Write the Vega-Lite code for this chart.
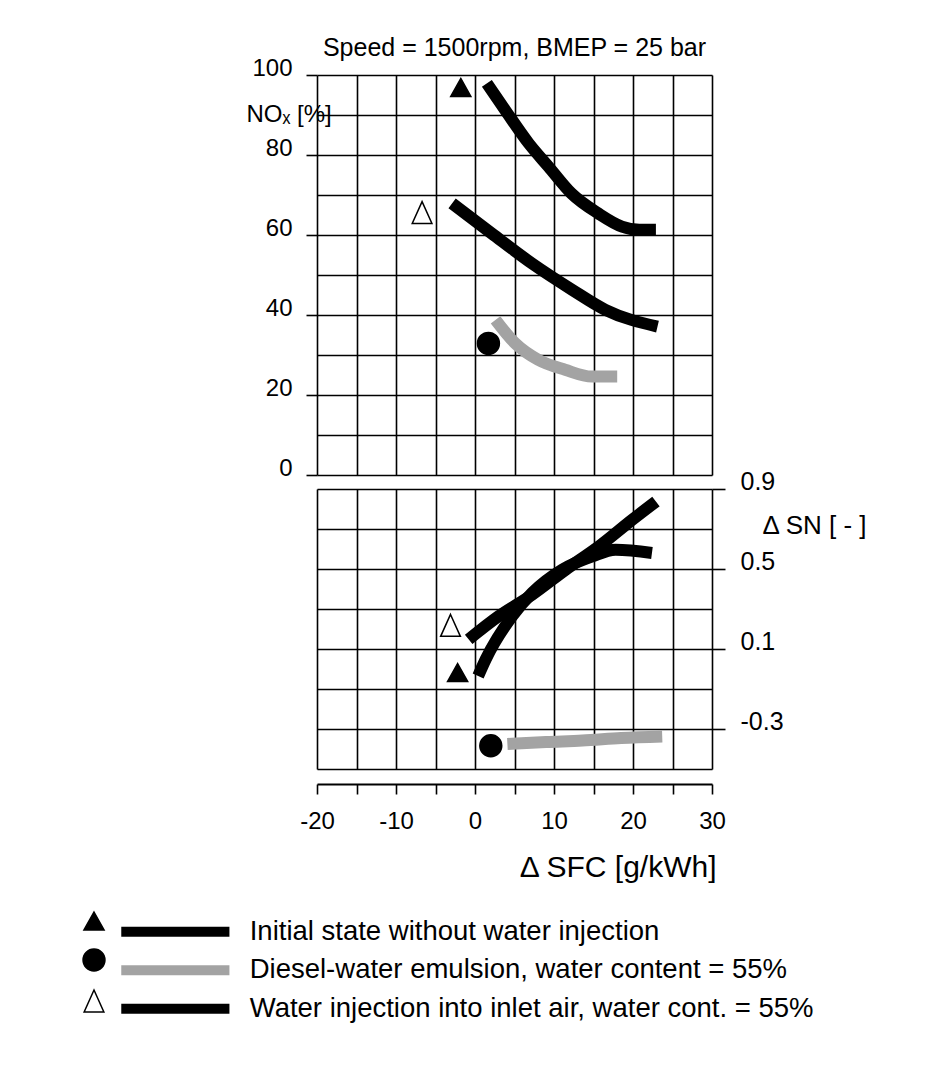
{
  "$schema": "https://vega.github.io/schema/vega-lite/v6.json",
  "padding": {"left": 82, "top": 36, "right": 10, "bottom": 10},
  "bounds": "flush",
  "spacing": 14,
  "resolve": {"scale": {"x": "independent", "y": "independent"}, "axis": {"x": "independent", "y": "independent"}},
  "config": {
    "font": "Liberation Sans",
    "locale": {"number": {"decimal": ".", "thousands": ",", "grouping": [3], "currency": ["$", ""], "minus": "-"}},
    "view": {"stroke": null},
    "axis": {
      "gridColor": "#000", "gridOpacity": 1, "gridWidth": 1.6,
      "tickColor": "#000", "tickWidth": 1.6,
      "domainColor": "#000", "domainWidth": 1.8,
      "labelColor": "#000", "titleColor": "#000",
      "labelFont": "Liberation Sans", "titleFont": "Liberation Sans",
      "titleFontWeight": "normal", "labelFlush": false, "labelOverlap": false, "labelBound": false
    },
    "legend": {"labelFont": "Liberation Sans", "labelColor": "#000", "padding": 0, "offset": 0},
    "title": {"font": "Liberation Sans", "fontWeight": "normal", "color": "#000"}
  },
  "datasets": {
    "curves": [
      {"series": "Initial state without water injection", "panel": "NOx", "sfc": 1.5, "value": 97.9},
      {"series": "Initial state without water injection", "panel": "NOx", "sfc": 3.8, "value": 91.3},
      {"series": "Initial state without water injection", "panel": "NOx", "sfc": 6.8, "value": 82.9},
      {"series": "Initial state without water injection", "panel": "NOx", "sfc": 9.3, "value": 77.1},
      {"series": "Initial state without water injection", "panel": "NOx", "sfc": 12.2, "value": 70.4},
      {"series": "Initial state without water injection", "panel": "NOx", "sfc": 15.6, "value": 65.4},
      {"series": "Initial state without water injection", "panel": "NOx", "sfc": 18.6, "value": 62.1},
      {"series": "Initial state without water injection", "panel": "NOx", "sfc": 20.8, "value": 61.3},
      {"series": "Initial state without water injection", "panel": "NOx", "sfc": 22.9, "value": 61.3},
      {"series": "Water injection into inlet air, water cont. = 55%", "panel": "NOx", "sfc": -2.9, "value": 67.9},
      {"series": "Water injection into inlet air, water cont. = 55%", "panel": "NOx", "sfc": 2.1, "value": 60.4},
      {"series": "Water injection into inlet air, water cont. = 55%", "panel": "NOx", "sfc": 7.2, "value": 52.9},
      {"series": "Water injection into inlet air, water cont. = 55%", "panel": "NOx", "sfc": 12.3, "value": 46.3},
      {"series": "Water injection into inlet air, water cont. = 55%", "panel": "NOx", "sfc": 16.5, "value": 41.3},
      {"series": "Water injection into inlet air, water cont. = 55%", "panel": "NOx", "sfc": 23.1, "value": 37.1},
      {"series": "Diesel-water emulsion, water content = 55%", "panel": "NOx", "sfc": 2.6, "value": 38.8},
      {"series": "Diesel-water emulsion, water content = 55%", "panel": "NOx", "sfc": 5.1, "value": 32.9},
      {"series": "Diesel-water emulsion, water content = 55%", "panel": "NOx", "sfc": 8.0, "value": 28.8},
      {"series": "Diesel-water emulsion, water content = 55%", "panel": "NOx", "sfc": 11.4, "value": 26.3},
      {"series": "Diesel-water emulsion, water content = 55%", "panel": "NOx", "sfc": 14.8, "value": 24.6},
      {"series": "Diesel-water emulsion, water content = 55%", "panel": "NOx", "sfc": 18.0, "value": 24.6},
      {"series": "Initial state without water injection", "panel": "SN", "sfc": 0.4, "value": -0.035},
      {"series": "Initial state without water injection", "panel": "SN", "sfc": 1.35, "value": 0.048},
      {"series": "Initial state without water injection", "panel": "SN", "sfc": 4.7, "value": 0.264},
      {"series": "Initial state without water injection", "panel": "SN", "sfc": 7.25, "value": 0.381},
      {"series": "Initial state without water injection", "panel": "SN", "sfc": 11.05, "value": 0.497},
      {"series": "Initial state without water injection", "panel": "SN", "sfc": 14.85, "value": 0.563},
      {"series": "Initial state without water injection", "panel": "SN", "sfc": 17.8, "value": 0.596},
      {"series": "Initial state without water injection", "panel": "SN", "sfc": 22.4, "value": 0.58},
      {"series": "Water injection into inlet air, water cont. = 55%", "panel": "SN", "sfc": -0.8, "value": 0.148},
      {"series": "Water injection into inlet air, water cont. = 55%", "panel": "SN", "sfc": 3.0, "value": 0.264},
      {"series": "Water injection into inlet air, water cont. = 55%", "panel": "SN", "sfc": 7.25, "value": 0.372},
      {"series": "Water injection into inlet air, water cont. = 55%", "panel": "SN", "sfc": 11.5, "value": 0.497},
      {"series": "Water injection into inlet air, water cont. = 55%", "panel": "SN", "sfc": 15.7, "value": 0.613},
      {"series": "Water injection into inlet air, water cont. = 55%", "panel": "SN", "sfc": 19.9, "value": 0.746},
      {"series": "Water injection into inlet air, water cont. = 55%", "panel": "SN", "sfc": 22.9, "value": 0.837},
      {"series": "Diesel-water emulsion, water content = 55%", "panel": "SN", "sfc": 4.1, "value": -0.375},
      {"series": "Diesel-water emulsion, water content = 55%", "panel": "SN", "sfc": 9.0, "value": -0.365},
      {"series": "Diesel-water emulsion, water content = 55%", "panel": "SN", "sfc": 13.6, "value": -0.358},
      {"series": "Diesel-water emulsion, water content = 55%", "panel": "SN", "sfc": 18.5, "value": -0.345},
      {"series": "Diesel-water emulsion, water content = 55%", "panel": "SN", "sfc": 23.7, "value": -0.337}
    ],
    "markers": [
      {"marker": "Initial", "panel": "NOx", "sfc": -1.8, "value": 96.9},
      {"marker": "Inlet", "panel": "NOx", "sfc": -6.7, "value": 65.6},
      {"marker": "Emulsion", "panel": "NOx", "sfc": 1.7, "value": 32.9},
      {"marker": "Initial", "panel": "SN", "sfc": -2.2, "value": -0.018},
      {"marker": "Inlet", "panel": "SN", "sfc": -3.1, "value": 0.218},
      {"marker": "Emulsion", "panel": "SN", "sfc": 2.0, "value": -0.384}
    ]
  },
  "vconcat": [
    {
      "width": 395,
      "height": 400,
      "title": {"text": "Speed = 1500rpm, BMEP = 25 bar", "fontSize": 25, "anchor": "middle", "frame": "group", "baseline": "alphabetic", "offset": -25},
      "layer": [
        {
          "data": {"name": "curves"},
          "transform": [{"filter": "datum.panel === 'NOx'"}],
          "mark": {"type": "line", "strokeWidth": 12, "interpolate": "monotone", "strokeCap": "butt"},
          "encoding": {
            "x": {"field": "sfc", "type": "quantitative", "scale": {"domain": [-20, 30], "nice": false, "zero": false},
              "axis": {"values": [-20, -15, -10, -5, 0, 5, 10, 15, 20, 25, 30], "tickCount": 30, "grid": true, "labels": false, "ticks": false, "domain": false, "title": null}},
            "y": {"field": "value", "type": "quantitative", "scale": {"domain": [0, 100], "nice": false, "zero": false},
              "axis": {"values": [0, 10, 20, 30, 40, 50, 60, 70, 80, 90, 100], "tickCount": 30, "grid": true, "domain": false, "tickSize": 11,
                "tickOpacity": {"condition": {"test": "datum.value % 20 === 0", "value": 1}, "value": 0},
                "labelExpr": "datum.value % 20 === 0 ? datum.label : ''",
                "labelFontSize": 24, "labelPadding": 14, "labelBaseline": "alphabetic",
                "title": "NOₓ [%]", "titleFontSize": 24, "titleAngle": 0, "titleAlign": "left", "titleBaseline": "alphabetic", "titleX": -71, "titleY": 46}},
            "stroke": {"field": "series", "type": "nominal",
              "scale": {"domain": ["Initial state without water injection", "Diesel-water emulsion, water content = 55%", "Water injection into inlet air, water cont. = 55%"], "range": ["#000000", "#a3a3a3", "#000000"]},
              "legend": {"orient": "none", "legendX": -155.4, "legendY": 843, "title": null, "symbolType": "M-10,0L10,0", "symbolStrokeWidth": 10, "symbolSize": 117, "labelFontSize": 27.5, "labelOffset": 60.6, "labelLimit": 0, "rowPadding": -2.5, "labelBaseline": "middle"}}
          }
        },
        {
          "data": {"name": "markers"},
          "transform": [{"filter": "datum.panel === 'NOx'"}],
          "mark": {"type": "point", "filled": true, "size": 480, "stroke": "#000", "strokeWidth": 1.5, "opacity": 1},
          "encoding": {
            "x": {"field": "sfc", "type": "quantitative"},
            "y": {"field": "value", "type": "quantitative"},
            "shape": {"field": "marker", "type": "nominal",
              "scale": {"domain": ["Initial", "Emulsion", "Inlet"], "range": ["M0,-0.82L0.92,0.82L-0.92,0.82Z", "circle", "M0,-1L0.9,1L-0.9,1Z"]},
              "legend": {"orient": "none", "legendX": -235, "legendY": 834, "title": null, "labelExpr": "''", "symbolSize": 480, "symbolStrokeColor": "#000", "symbolStrokeWidth": 1.5, "symbolOpacity": 1, "rowPadding": 13}},
            "color": {"field": "marker", "type": "nominal",
              "scale": {"domain": ["Initial", "Emulsion", "Inlet"], "range": ["#000000", "#000000", "#ffffff"]},
              "legend": {"orient": "none", "legendX": -235, "legendY": 834, "title": null, "labelExpr": "''", "symbolSize": 480, "symbolStrokeColor": "#000", "symbolStrokeWidth": 1.5, "symbolOpacity": 1, "rowPadding": 13}}
          }
        }
      ]
    },
    {
      "width": 395,
      "height": 280,
      "layer": [
        {
          "data": {"name": "curves"},
          "transform": [{"filter": "datum.panel === 'SN'"}],
          "mark": {"type": "line", "strokeWidth": 12, "interpolate": "monotone", "strokeCap": "butt"},
          "encoding": {
            "x": {"field": "sfc", "type": "quantitative", "scale": {"domain": [-20, 30], "nice": false, "zero": false},
              "axis": {"values": [-20, -15, -10, -5, 0, 5, 10, 15, 20, 25, 30], "tickCount": 30, "grid": true, "offset": 15, "domain": true, "ticks": true, "tickSize": 10,
                "labelExpr": "datum.value % 10 === 0 ? datum.label : ''",
                "labelFontSize": 24, "labelPadding": 15, "labelBaseline": "top",
                "title": "Δ SFC [g/kWh]", "titleFontSize": 30, "titleX": 399, "titleY": 92, "titleAlign": "right", "titleBaseline": "alphabetic"}},
            "y": {"field": "value", "type": "quantitative", "scale": {"domain": [-0.5, 0.9], "nice": false, "zero": false},
              "axis": {"orient": "right", "values": [-0.5, -0.3, -0.1, 0.1, 0.3, 0.5, 0.7, 0.9], "tickCount": 30, "grid": true, "domain": false, "tickSize": 13,
                "tickOpacity": {"condition": {"test": "indexof(['0.9','0.5','0.1','-0.3'], format(datum.value, '.1f')) >= 0", "value": 1}, "value": 0},
                "format": ".1f",
                "labelExpr": "indexof(['0.9','0.5','0.1','-0.3'], format(datum.value, '.1f')) >= 0 ? datum.label : ''",
                "labelFontSize": 25, "labelPadding": 15, "labelBaseline": "alphabetic", "labelAlign": "left",
                "title": "Δ SN [ - ]", "titleFontSize": 26, "titleAngle": 0, "titleAlign": "left", "titleBaseline": "alphabetic", "titleX": 50, "titleY": 44}},
            "stroke": {"field": "series", "type": "nominal"}
          }
        },
        {
          "data": {"name": "markers"},
          "transform": [{"filter": "datum.panel === 'SN'"}],
          "mark": {"type": "point", "filled": true, "size": 480, "stroke": "#000", "strokeWidth": 1.5, "opacity": 1},
          "encoding": {
            "x": {"field": "sfc", "type": "quantitative"},
            "y": {"field": "value", "type": "quantitative"},
            "shape": {"field": "marker", "type": "nominal"},
            "color": {"field": "marker", "type": "nominal"}
          }
        }
      ]
    }
  ]
}
